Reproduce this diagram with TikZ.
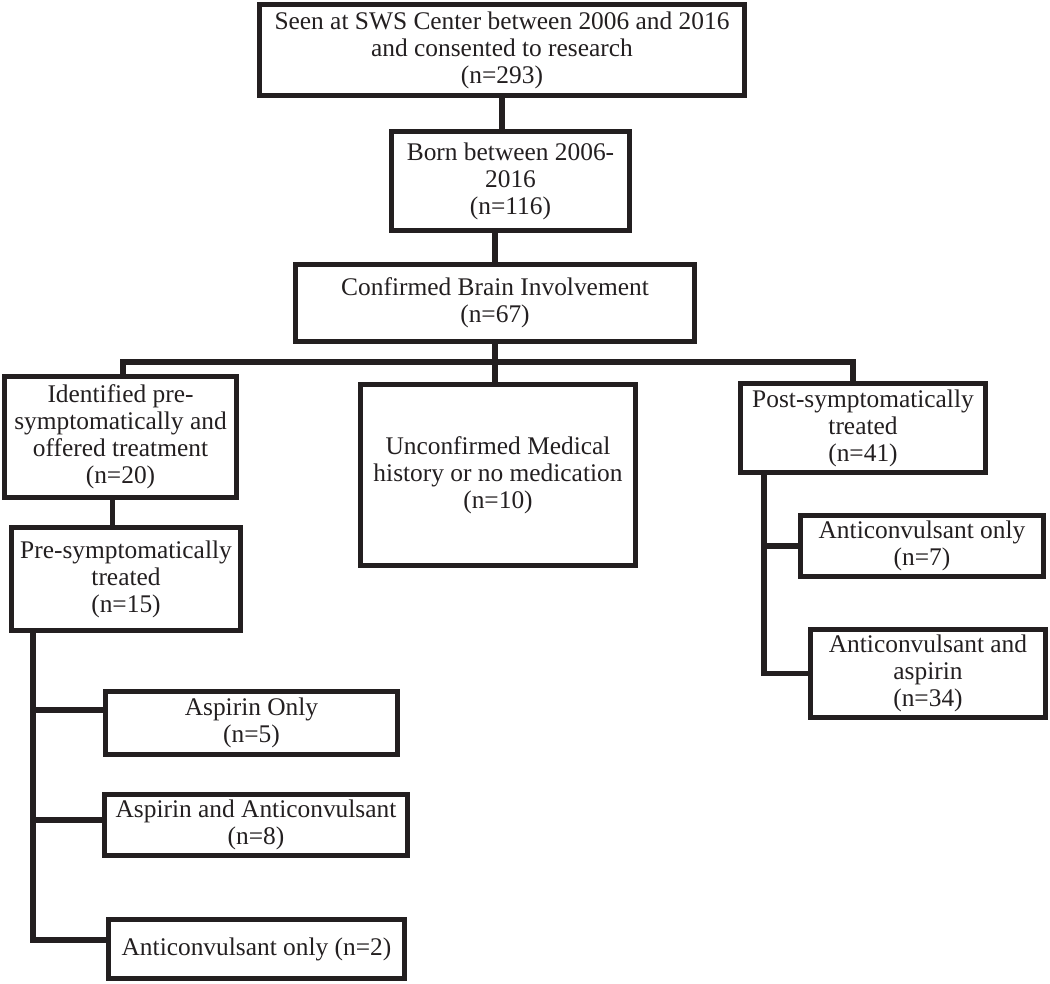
\documentclass[tikz,border=0pt]{standalone}
\usepackage{fontspec}
\setmainfont{Liberation Serif}
\definecolor{ink}{RGB}{35,31,32}
\begin{document}
\begin{tikzpicture}[x=1pt,y=-1pt,
  box/.style={draw=ink, line width=5.2pt, align=center, inner sep=0pt, text=ink,
    font=\fontsize{25.4pt}{27pt}\selectfont},
  link/.style={draw=ink, line width=5.2pt, line join=miter}]
\useasboundingbox (0,0) rectangle (1050,984);

\node[box, minimum width=484.8pt, minimum height=90.8pt] (top) at (502,50)
  {Seen at SWS Center between 2006 and 2016\\and consented to research\\(n=293)};
\node[box, minimum width=237.8pt, minimum height=98.8pt] (born) at (510.5,181)
  {Born between 2006-\\2016\\(n=116)};
\node[box, minimum width=398.8pt, minimum height=76.8pt] (conf) at (495,303)
  {Confirmed Brain Involvement\\(n=67)};
\node[box, minimum width=231.8pt, minimum height=120.8pt] (ident) at (120.5,437)
  {Identified pre-\\symptomatically and\\offered treatment\\(n=20)};
\node[box, minimum width=274.8pt, minimum height=180.8pt] (unconf) at (498,475)
  {Unconfirmed Medical\\history or no medication\\(n=10)};
\node[box, minimum width=244.8pt, minimum height=88.8pt] (post) at (863,428)
  {Post-symptomatically\\treated\\(n=41)};
\node[box, minimum width=228.8pt, minimum height=102.8pt] (pre) at (126,579)
  {Pre-symptomatically\\treated\\(n=15)};
\node[box, minimum width=242.8pt, minimum height=60.8pt] (acone) at (922,546)
  {Anticonvulsant only\\(n=7)};
\node[box, minimum width=234.8pt, minimum height=87.8pt] (acasp) at (928,673.5)
  {Anticonvulsant and\\aspirin\\(n=34)};
\node[box, minimum width=291.8pt, minimum height=62.8pt] (asp) at (251.5,723)
  {Aspirin Only\\(n=5)};
\node[box, minimum width=302.8pt, minimum height=60.8pt] (aspac) at (256,825)
  {Aspirin and Anticonvulsant\\(n=8)};
\node[box, minimum width=295.8pt, minimum height=59.5pt] (actwo) at (256.5,949)
  {Anticonvulsant only (n=2)};

\coordinate (barL) at (123,362);
\coordinate (barR) at (853,362);
\coordinate (ltrunk) at (33,0);
\coordinate (rtrunk) at (764,0);

\draw[link] (top.south) -- (top.south |- born.north);
\draw[link] (conf.north |- born.south) -- (conf.north);
\draw[link] (conf.south) -- (conf.south |- barL);
\draw[link] (barL |- ident.north) -- (barL) -- (barR) -- (barR |- post.north);
\draw[link] (conf.south |- barL) -- (conf.south |- unconf.north);
\draw[link] ([xshift=-8pt]ident.south) -- ([xshift=-8pt]ident.south |- pre.north);

\draw[link] (ltrunk |- pre.south) |- ([yshift=13pt]asp.west);
\draw[link] (ltrunk |- aspac.west) ++(0,-5) -- ([yshift=5pt]aspac.west);
\draw[link] (ltrunk |- pre.south) |- ([yshift=9pt]actwo.west);

\draw[link] (rtrunk |- post.south) |- (acasp.west);
\draw[link] (rtrunk |- acone.west) -- (acone.west);
\end{tikzpicture}
\end{document}
